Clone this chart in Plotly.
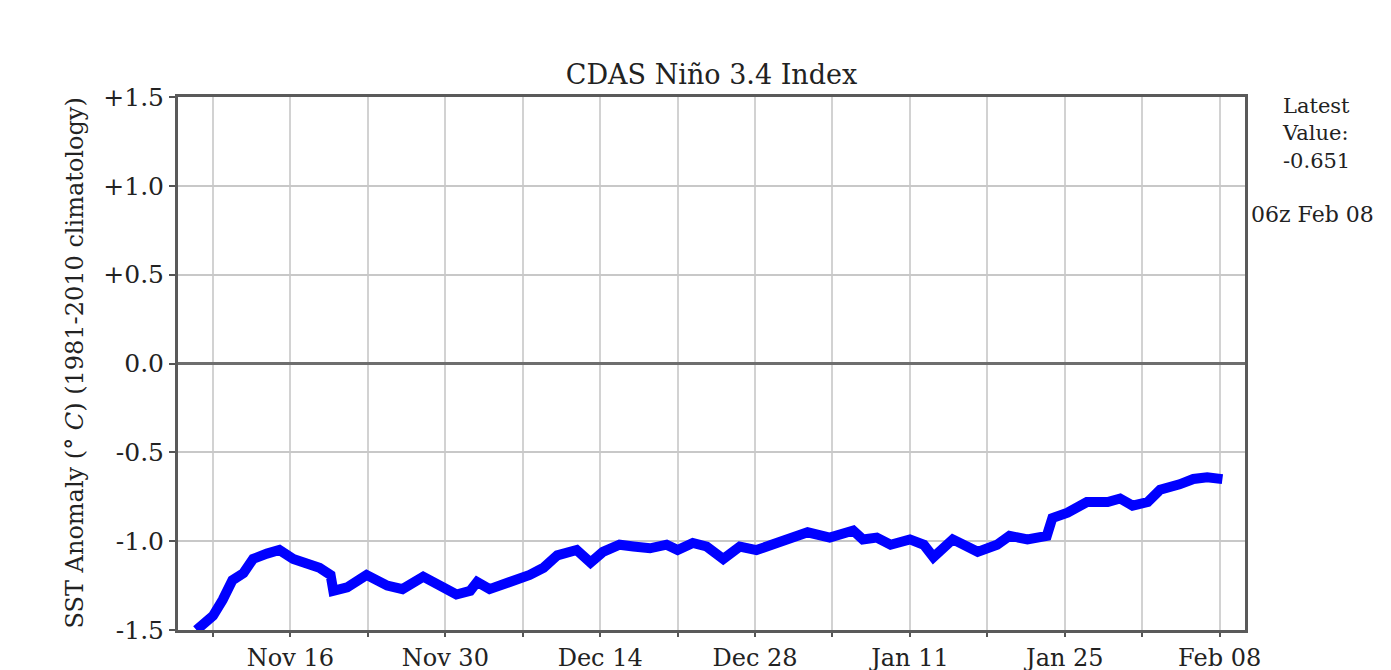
import plotly.graph_objects as go

# ---- data ----
times = [
    "2020-11-07 12:00", "2020-11-08 06:00", "2020-11-09 00:00", "2020-11-09 21:00",
    "2020-11-10 18:00", "2020-11-11 18:00", "2020-11-12 15:00", "2020-11-13 21:00",
    "2020-11-15 00:00", "2020-11-16 06:00", "2020-11-17 12:00", "2020-11-18 15:00",
    "2020-11-19 15:00", "2020-11-19 21:00", "2020-11-21 03:00", "2020-11-22 21:00",
    "2020-11-24 18:00", "2020-11-26 03:00", "2020-11-28 00:00", "2020-11-29 12:00",
    "2020-12-01 00:00", "2020-12-02 06:00", "2020-12-02 21:00", "2020-12-04 00:00",
    "2020-12-05 21:00", "2020-12-07 15:00", "2020-12-08 21:00", "2020-12-10 03:00",
    "2020-12-11 21:00", "2020-12-13 03:00", "2020-12-14 06:00", "2020-12-15 18:00",
    "2020-12-17 00:00", "2020-12-18 12:00", "2020-12-20 00:00", "2020-12-21 00:00",
    "2020-12-22 09:00", "2020-12-23 15:00", "2020-12-25 03:00", "2020-12-26 15:00",
    "2020-12-28 03:00", "2020-12-29 15:00", "2020-12-31 03:00", "2021-01-01 18:00",
    "2021-01-03 18:00", "2021-01-05 21:00", "2021-01-06 18:00", "2021-01-08 00:00",
    "2021-01-09 06:00", "2021-01-11 00:00", "2021-01-12 06:00", "2021-01-13 03:00",
    "2021-01-14 21:00", "2021-01-17 03:00", "2021-01-18 21:00", "2021-01-20 00:00",
    "2021-01-21 15:00", "2021-01-23 09:00", "2021-01-23 21:00", "2021-01-25 06:00",
    "2021-01-27 00:00", "2021-01-28 21:00", "2021-01-30 00:00", "2021-01-31 03:00",
    "2021-02-01 12:00", "2021-02-02 15:00", "2021-02-04 09:00", "2021-02-05 15:00",
    "2021-02-06 21:00", "2021-02-08 06:00",
]
sst_anomaly = [
    -1.50, -1.46, -1.42, -1.33,
    -1.22, -1.18, -1.10, -1.07,
    -1.05, -1.10, -1.13, -1.15,
    -1.19, -1.28, -1.26, -1.19,
    -1.25, -1.27, -1.20, -1.25,
    -1.30, -1.28, -1.23, -1.27,
    -1.23, -1.19, -1.15, -1.08,
    -1.05, -1.12, -1.06, -1.02,
    -1.03, -1.04, -1.02, -1.05,
    -1.01, -1.03, -1.10, -1.03,
    -1.05, -1.02, -0.99, -0.95,
    -0.98, -0.94, -0.99, -0.98,
    -1.02, -0.99, -1.02, -1.09,
    -0.99, -1.06, -1.02, -0.97,
    -0.99, -0.97, -0.87, -0.84,
    -0.78, -0.78, -0.76, -0.80,
    -0.78, -0.71, -0.68, -0.65,
    -0.64, -0.651,
]

week_ticks = [
    "2020-11-09", "2020-11-16", "2020-11-23", "2020-11-30", "2020-12-07",
    "2020-12-14", "2020-12-21", "2020-12-28", "2021-01-04", "2021-01-11",
    "2021-01-18", "2021-01-25", "2021-02-01", "2021-02-08",
]
week_labels = ["", "Nov 16", "", "Nov 30", "", "Dec 14", "", "Dec 28", "",
               "Jan 11", "", "Jan 25", "", "Feb 08"]

y_ticks = [1.5, 1.0, 0.5, 0.0, -0.5, -1.0, -1.5]
y_labels = ["+1.5", "+1.0", "+0.5", "0.0", "-0.5", "-1.0", "-1.5"]

x_range = ["2020-11-05 20:00", "2021-02-10 07:00"]

title_text = "CDAS Niño 3.4 Index"
y_title = "SST Anomaly (° <i>C</i>) (1981-2010 climatology)"
latest_text = "Latest<br>Value:<br>-0.651"
stamp_text = "06z Feb 08"

FONT = "DejaVu Serif"
TXT = "#222222"

fig = go.Figure()
fig.add_trace(go.Scatter(
    x=times, y=sst_anomaly, mode="lines",
    line=dict(color="#0000ff", width=10),
    hoverinfo="x+y", showlegend=False,
))

fig.update_layout(
    width=1391, height=670,
    margin=dict(l=170, r=154, t=89, b=48),
    paper_bgcolor="white", plot_bgcolor="white",
    font=dict(family=FONT, color=TXT, size=24),
    title=dict(text=title_text, x=0.5, xref="paper", xanchor="center",
               y=1 - 67 / 670, yref="container", yanchor="middle",
               font=dict(family=FONT, size=27, color=TXT)),
    xaxis=dict(
        type="date", range=x_range, automargin=False,
        tickmode="array", tickvals=week_ticks, ticktext=week_labels,
        showgrid=True, gridcolor="#d2d2d2", gridwidth=2,
        ticks="outside", ticklen=4, tickwidth=2, tickcolor="#555",
        showline=True, linecolor="#5a5a5a", linewidth=3, mirror=True,
        tickfont=dict(family=FONT, size=24, color=TXT),
        zeroline=False,
    ),
    yaxis=dict(
        range=[-1.5, 1.5], automargin=False,
        tickmode="array", tickvals=y_ticks, ticktext=y_labels,
        showgrid=True, gridcolor="#c8c8c8", gridwidth=2,
        zeroline=True, zerolinecolor="#6e6e6e", zerolinewidth=2.5,
        ticks="outside", ticklen=6, tickwidth=2, tickcolor="#555",
        showline=True, linecolor="#5a5a5a", linewidth=3, mirror=True,
        tickfont=dict(family=FONT, size=25, color=TXT),
    ),
    annotations=[
        dict(text=y_title, xref="paper", yref="paper", x=(74 - 178) / 1067, y=0.5,
             xanchor="center", yanchor="middle", textangle=-90, showarrow=False,
             font=dict(family=FONT, size=24, color=TXT)),
        dict(text=latest_text, xref="paper", yref="paper", x=(1280 - 178) / 1067,
             y=(630 - 92) / 533, xanchor="left", yanchor="top", align="left",
             showarrow=False, font=dict(family=FONT, size=21, color=TXT)),
        dict(text=stamp_text, xref="paper", yref="paper", x=(1249 - 178) / 1067,
             y=(630 - 214) / 533, xanchor="left", yanchor="middle", align="left",
             showarrow=False, font=dict(family=FONT, size=22, color=TXT)),
    ],
)

fig.write_html("out.html")
